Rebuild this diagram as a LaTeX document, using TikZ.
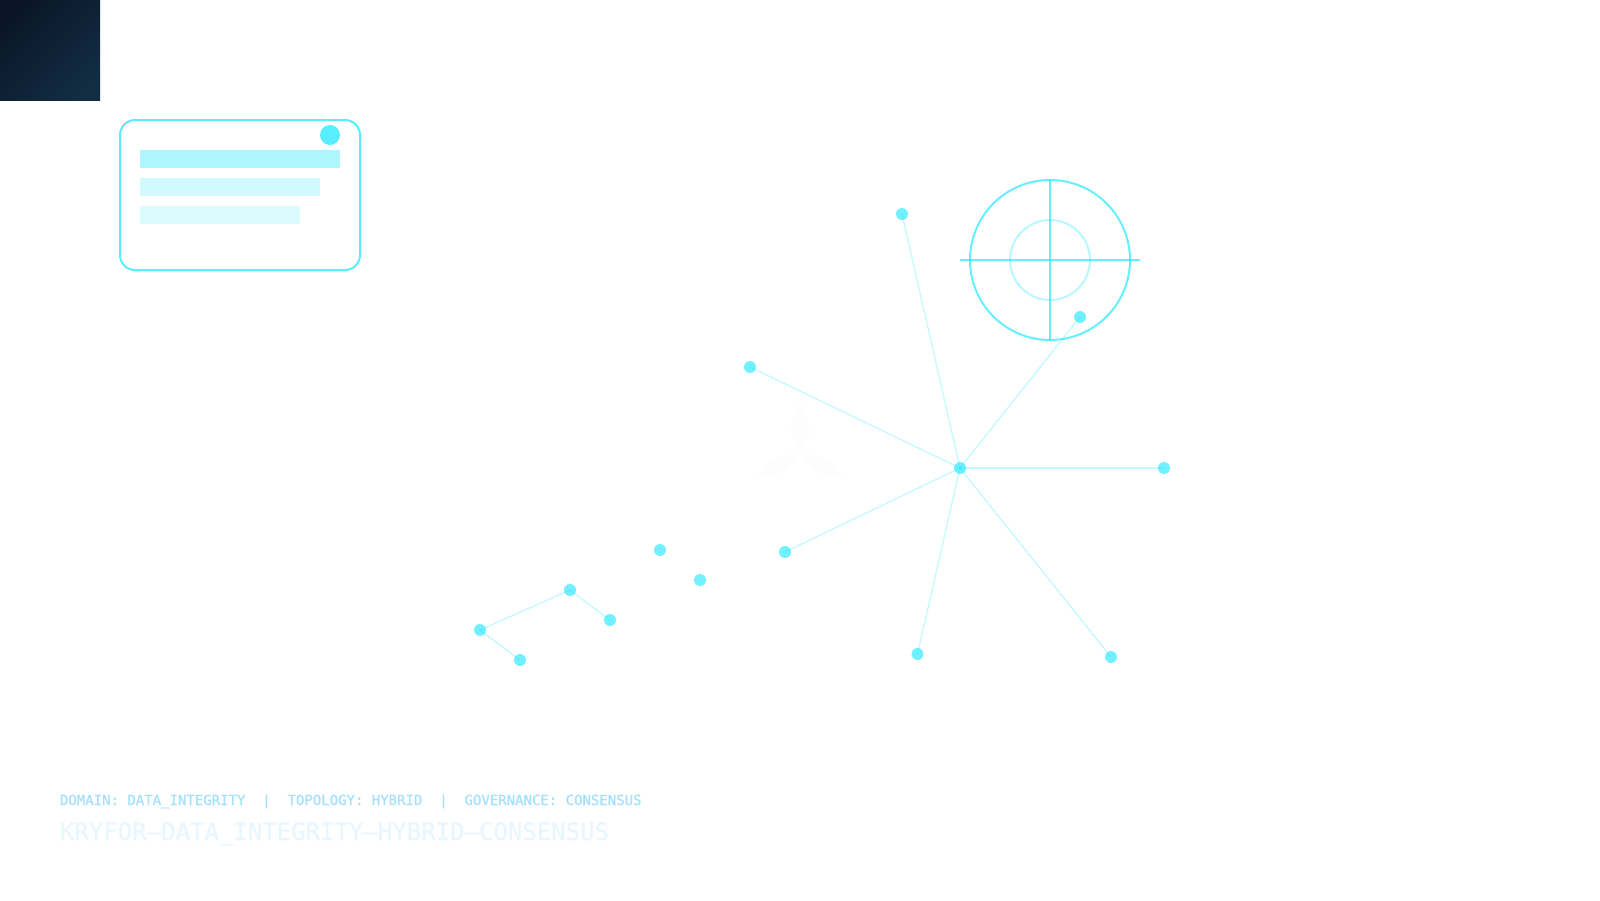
\documentclass[tikz,border=0pt]{standalone}
\usepackage{fontspec}
\setmonofont[FakeBold=0.5]{DejaVu Sans Mono}
\usepackage{tikz}
\usetikzlibrary{positioning}
\definecolor{cyanline}{HTML}{00E5FF}
\definecolor{darkstart}{HTML}{0A1628}
\definecolor{darkend}{HTML}{122C42}
\definecolor{metatext}{HTML}{A4E0FF}
\definecolor{idtext}{HTML}{E8F7FF}
\definecolor{petal}{HTML}{FDFDFD}

\begin{document}
\begin{tikzpicture}[
            x = 1pt,
            y = -1pt,
            outer sep = 0pt,
            semithick % line style
        ]

        \tikzstyle{dot}=[
            circle,
            draw = none,
            fill = cyanline,
            fill opacity = .55,
            inner sep = 0pt,
            minimum size = 12pt
        ]
        \tikzstyle{link}=[
            draw = cyanline,
            draw opacity = .23,
            line width = 1.3pt
        ]
        \tikzstyle{bar}=[
            anchor = north west,
            fill = cyanline,
            inner sep = 0pt,
            minimum height = 18pt
        ]
        \tikzstyle{ring}=[
            circle,
            draw = cyanline,
            inner sep = 0pt,
            line width = 2pt
        ]

        \useasboundingbox (0,0) rectangle (1600,900);
        \fill[white] (0,0) rectangle (1600,900);

        % corner square
        \node[anchor = north west, minimum size = 100pt, inner sep = 0pt,
              shading = axis, left color = darkstart, right color = darkend,
              shading angle = 45] (corner) at (0,0) {};

        % card
        \node[anchor = north west, draw = cyanline, draw opacity = .65, line width = 2pt,
              rounded corners = 15pt, minimum width = 240pt, minimum height = 150pt,
              inner sep = 0pt] (card) at (120,120) {};
        \node[circle, fill = cyanline, fill opacity = .65, inner sep = 0pt,
              minimum size = 20pt] (badge) at (330,135) {};
        \node[bar, fill opacity = .32, minimum width = 200pt] (barA) at (140,150) {};
        \node[bar, fill opacity = .18, minimum width = 180pt] (barB) at (140,178) {};
        \node[bar, fill opacity = .14, minimum width = 160pt] (barC) at (140,206) {};

        % target
        \node[ring, draw opacity = .6, minimum size = 160pt] (outer) at (1050,260) {};
        \node[ring, draw opacity = .28, minimum size = 80pt] (inner) at (1050,260) {};
        \coordinate (crossW) at (960,260);
        \coordinate (crossE) at (1140,260);
        \coordinate (crossN) at (1050,180);
        \coordinate (crossS) at (1050,340);
        \path[draw = cyanline, draw opacity = .6, line width = 2pt] (crossW) -- (crossE);
        \path[draw = cyanline, draw opacity = .6, line width = 2pt] (crossN) -- (crossS);

        % faint petals
        \fill[petal] (800,403) .. controls (812,425) and (812,440) .. (800,448)
            .. controls (788,440) and (788,425) .. (800,403);
        \fill[petal] (798,455) .. controls (790,470) and (775,478) .. (757,478)
            .. controls (765,462) and (782,452) .. (798,455);
        \fill[petal] (802,455) .. controls (810,470) and (825,478) .. (843,478)
            .. controls (835,462) and (818,452) .. (802,455);

        % hub and spokes
        \node[dot] (H) at (960,468) {};
        \node[dot] (S1) at (1164,468) {};
        \node[dot] (S2) at (1080,317) {};
        \node[dot] (S3) at (902,214) {};
        \node[dot] (S4) at (750,367) {};
        \node[dot] (S5) at (785,552) {};
        \node[dot] (S6) at (917.5,654) {};
        \node[dot] (S7) at (1111,657) {};

        \foreach \spoke in {S1,S2,S3,S4,S5,S6,S7}
            \path[link] (H.center) -- (\spoke.center);

        % small cluster
        \node[dot] (C1) at (480,630) {};
        \node[dot] (C2) at (570,590) {};
        \node[dot] (C3) at (610,620) {};
        \node[dot] (C4) at (520,660) {};
        \node[dot] (C5) at (660,550) {};
        \node[dot] (C6) at (700,580) {};

        \path[link] (C1.center) -- (C2.center);
        \path[link] (C2.center) -- (C3.center);
        \path[link] (C1.center) -- (C4.center);

        % caption
        \node[anchor = base west, inner sep = 0pt, text = metatext, font = \ttfamily\fontsize{14}{16}\selectfont]
            (meta) at (60,805) {DOMAIN:~DATA\_INTEGRITY~~|~~TOPOLOGY:~HYBRID~~|~~GOVERNANCE:~CONSENSUS};
        \node[anchor = base west, inner sep = 0pt, text = idtext, font = \ttfamily\fontsize{24}{28}\selectfont]
            (ident) at (60,840) {KRYFOR—DATA\_INTEGRITY—HYBRID—CONSENSUS};

\end{tikzpicture}
\end{document}
